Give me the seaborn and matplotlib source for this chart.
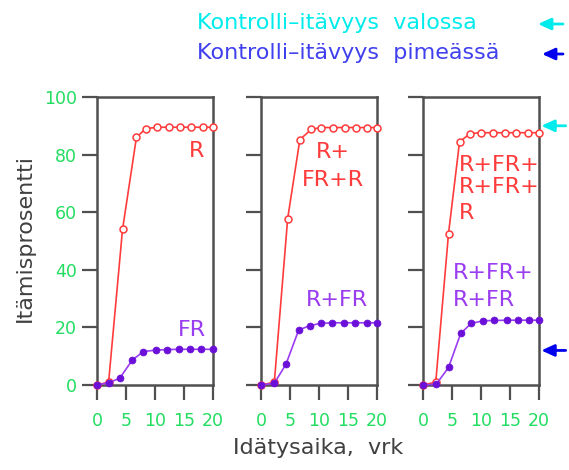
import matplotlib
matplotlib.use("Agg")
import matplotlib.pyplot as plt
from matplotlib.patches import FancyArrowPatch
import seaborn as sns
import pandas as pd

sns.set_theme(style="white")
plt.rcParams['font.family'] = ['DejaVu Sans']

# ---- data ----
days_ticks = [0, 5, 10, 15, 20]
pct_ticks = [0, 20, 40, 60, 80, 100]

# panel 1: R / FR
p1_red_x = [0, 2, 4.4, 6.8, 8.4, 10.4, 12.4, 14.3, 16.2, 18.2, 20]
p1_red_y = [0, 1, 54, 86, 89, 89.5, 89.5, 89.5, 89.5, 89.5, 89.5]
p1_pur_x = [0, 2, 3.9, 6.1, 8, 10.1, 12.1, 14.1, 16, 18, 20]
p1_pur_y = [0, 0.8, 2.3, 8.7, 11.6, 12.1, 12.3, 12.4, 12.4, 12.4, 12.4]

# panel 2: R+FR+R / R+FR
p2_red_x = [0, 2.3, 4.6, 6.7, 8.7, 10.4, 12.4, 14.4, 16.4, 18.3, 20]
p2_red_y = [0, 1, 57.8, 85.2, 88.8, 89.4, 89.4, 89.4, 89.4, 89.4, 89.4]
p2_pur_x = [0, 2.3, 4.3, 6.5, 8.4, 10.3, 12.3, 14.3, 16.2, 18.2, 20]
p2_pur_y = [0, 0.6, 7.2, 19.1, 20.6, 21.4, 21.6, 21.6, 21.6, 21.6, 21.6]

# panel 3: R+FR+R+FR+R / R+FR+R+FR
p3_red_x = [0, 2.2, 4.4, 6.3, 8.1, 10, 12.1, 14.1, 16.1, 18.1, 20]
p3_red_y = [0, 1, 52.6, 84.4, 87.3, 87.6, 87.6, 87.6, 87.6, 87.6, 87.6]
p3_pur_x = [0, 2.3, 4.4, 6.5, 8.3, 10.4, 12.3, 14.4, 16.3, 18.3, 20]
p3_pur_y = [0, 0.3, 6.1, 17.9, 21.4, 22.3, 22.4, 22.5, 22.5, 22.5, 22.5]

control_light = 90
control_dark = 12

top_labels = ["Kontrolli–itävyys  valossa", "Kontrolli–itävyys  pimeässä"]
xlabel = "Idätysaika,  vrk"
ylabel = "Itämisprosentti"

# ---- styles ----
RED = "#ff3b3b"
PUR_LINE = "#9a3cf0"
PUR_FILL = "#6a10d8"
GREEN = "#22dd60"
CYAN = "#00ecec"
BLUE_TXT = "#4040ee"
BLUE = "#0000ee"
SPINE = "#505050"

fig = plt.figure(figsize=(5.69, 4.70), dpi=100)
W, H = 569, 470
lefts = [97, 261, 423]
aw = 116
bottom_px, top_px = 385, 97

panels = [
    (p1_red_x, p1_red_y, p1_pur_x, p1_pur_y),
    (p2_red_x, p2_red_y, p2_pur_x, p2_pur_y),
    (p3_red_x, p3_red_y, p3_pur_x, p3_pur_y),
]

axes = []
for i, (rx, ry, px, py) in enumerate(panels):
    ax = fig.add_axes([lefts[i] / W, 1 - bottom_px / H, aw / W, (bottom_px - top_px) / H])
    axes.append(ax)
    dfr = pd.DataFrame({"x": rx, "y": ry})
    dfp = pd.DataFrame({"x": px, "y": py})
    sns.lineplot(data=dfr, x="x", y="y", ax=ax, color=RED, lw=1.2, sort=False,
                 estimator=None, marker="o", markersize=5, markerfacecolor="white",
                 markeredgecolor=RED, markeredgewidth=1.1, clip_on=False, zorder=3)
    sns.lineplot(data=dfp, x="x", y="y", ax=ax, color=PUR_LINE, lw=1.2, sort=False,
                 estimator=None, marker="o", markersize=5, markerfacecolor=PUR_FILL,
                 markeredgecolor=PUR_FILL, markeredgewidth=0.5, clip_on=False, zorder=4)
    ax.set_xlim(0, 20)
    ax.set_ylim(0, 100)
    ax.set_xticks(days_ticks)
    ax.set_yticks(pct_ticks)
    ax.set_xlabel("")
    ax.set_ylabel("")
    for s in ax.spines.values():
        s.set_visible(True)
        s.set_color(SPINE)
        s.set_linewidth(1.8)
    ax.tick_params(axis="both", direction="out", length=10.5, width=1.6, color=SPINE,
                   labelsize=12.5, labelcolor=GREEN)
    ax.tick_params(axis="x", pad=9, bottom=True)
    ax.tick_params(axis="y", pad=4, left=True)
    if i > 0:
        ax.set_yticklabels([])
    ax.set_facecolor("white")

# in-panel labels
fs = 16
axes[0].text(17.1, 81.2, "R", color=RED, fontsize=fs, ha="center", va="center")
axes[0].text(16.4, 19.1, "FR", color=PUR_LINE, fontsize=fs, ha="center", va="center")
axes[1].text(12.4, 80.9, "R+", color=RED, fontsize=fs, ha="center", va="center")
axes[1].text(12.4, 71.2, "FR+R", color=RED, fontsize=fs, ha="center", va="center")
axes[1].text(13.1, 29.5, "R+FR", color=PUR_LINE, fontsize=fs, ha="center", va="center")
axes[2].text(6.2, 76.4, "R+FR+", color=RED, fontsize=fs, ha="left", va="center")
axes[2].text(6.2, 68.7, "R+FR+", color=RED, fontsize=fs, ha="left", va="center")
axes[2].text(6.2, 59.7, "R", color=RED, fontsize=fs, ha="left", va="center")
axes[2].text(5.2, 38.9, "R+FR+", color=PUR_LINE, fontsize=fs, ha="left", va="center")
axes[2].text(5.2, 29.5, "R+FR", color=PUR_LINE, fontsize=fs, ha="left", va="center")

ARROW = "-|>,head_length=0.7,head_width=0.32"

# control arrows on right of panel 3
ax3 = axes[2]
for val, col in [(control_light, CYAN), (control_dark, BLUE)]:
    ax3.annotate("", xy=(1.02, val), xycoords=("axes fraction", "data"),
                 xytext=(1.23, val), textcoords=("axes fraction", "data"),
                 arrowprops=dict(arrowstyle=ARROW, color=col, lw=2,
                                 mutation_scale=11, shrinkA=0, shrinkB=0),
                 annotation_clip=False)

# top legend texts with arrows
fig.text(197 / W, 1 - 23 / H, top_labels[0], color=CYAN, fontsize=16, ha="left", va="center")
fig.text(197 / W, 1 - 53 / H, top_labels[1], color=BLUE_TXT, fontsize=16, ha="left", va="center")
for ypx, x0, col in [(24, 538, CYAN), (54, 542, BLUE)]:
    fig.add_artist(FancyArrowPatch(
        posA=(563 / W, 1 - ypx / H), posB=(x0 / W, 1 - ypx / H),
        transform=fig.transFigure, arrowstyle=ARROW,
        color=col, lw=2, mutation_scale=11, shrinkA=0, shrinkB=0))

# axis labels
fig.text(25 / W, 1 - 238 / H, ylabel, rotation=90, color="#404040", fontsize=16,
         ha="center", va="center")
fig.text(318 / W, 1 - 448 / H, xlabel, color="#404040", fontsize=16,
         ha="center", va="center")

fig.savefig("out.png", dpi=100, facecolor="white")
